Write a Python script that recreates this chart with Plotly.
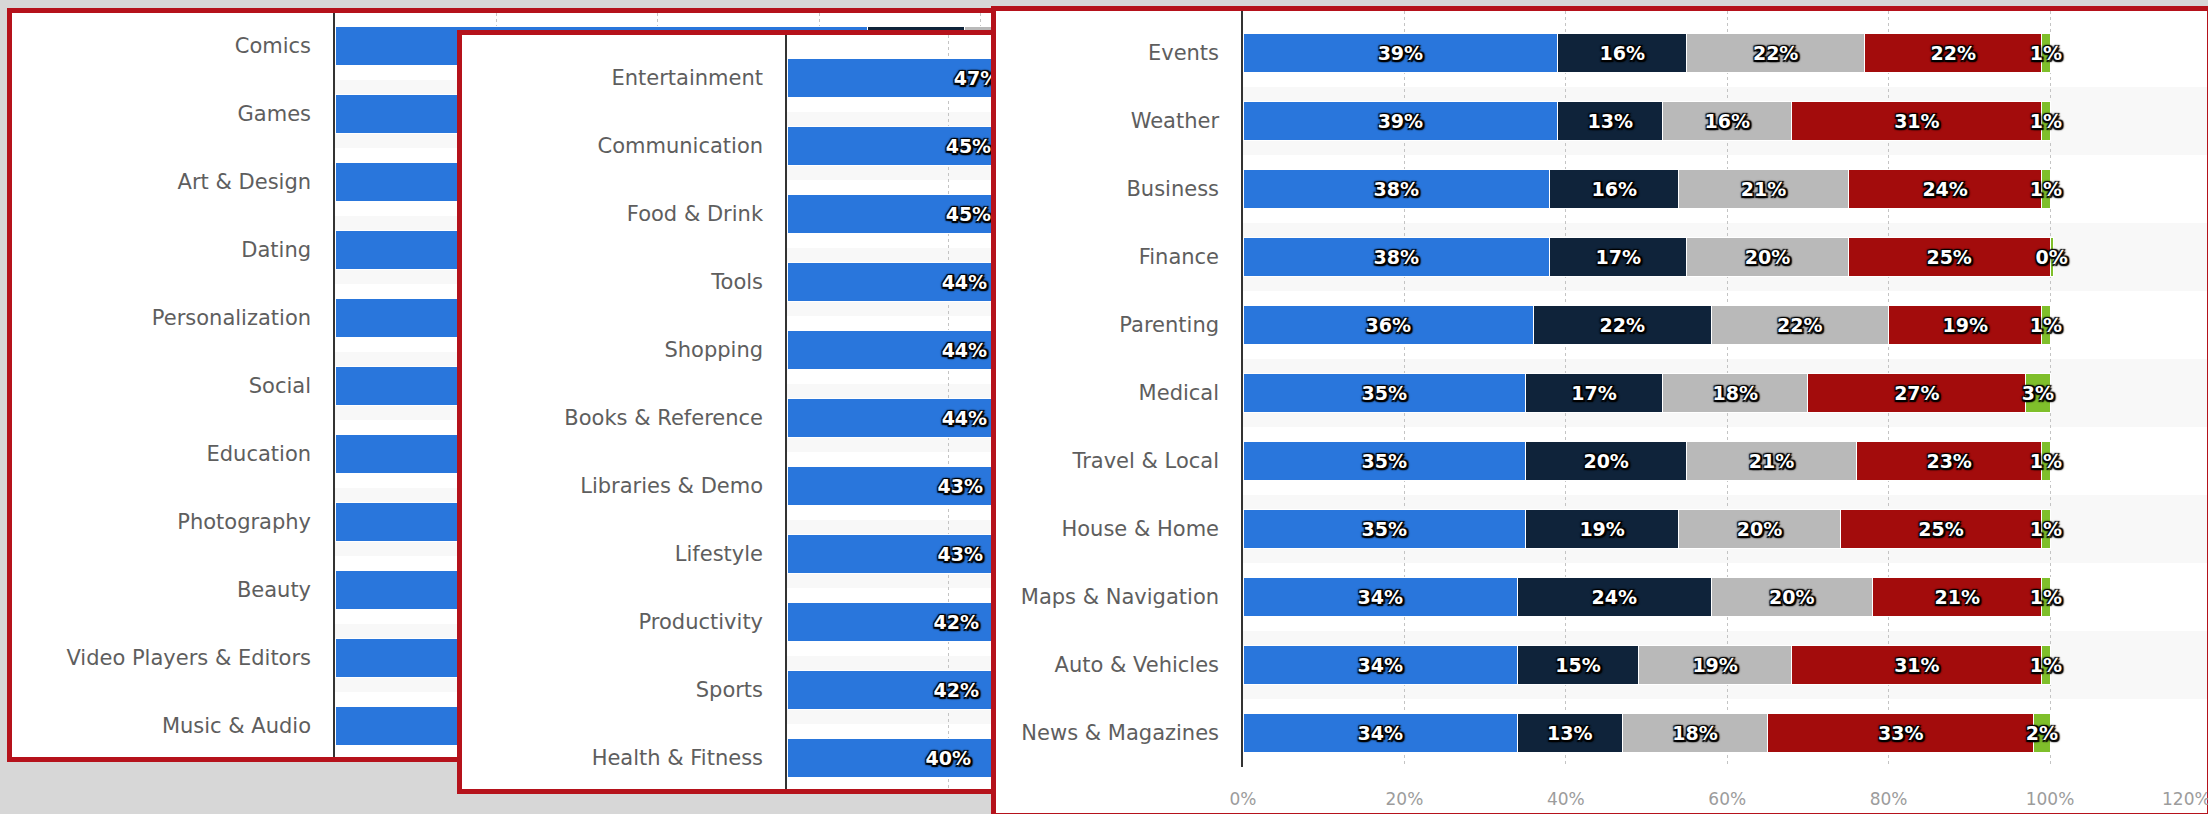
import plotly.graph_objects as go

W, H = 2208, 814

# ---------------- data ----------------
p1_categories = ["Comics", "Games", "Art & Design", "Dating", "Personalization", "Social",
                 "Education", "Photography", "Beauty", "Video Players & Editors", "Music & Audio"]
p1_blue = [66, 62, 59, 57, 55, 53, 52, 51, 50, 49, 48]
p1_navy = [12, None, None, None, None, None, None, None, None, None, None]
p1_gray = [10, None, None, None, None, None, None, None, None, None, None]

p2_categories = ["Entertainment", "Communication", "Food & Drink", "Tools", "Shopping",
                 "Books & Reference", "Libraries & Demo", "Lifestyle", "Productivity",
                 "Sports", "Health & Fitness"]
p2_blue = [47, 45, 45, 44, 44, 44, 43, 43, 42, 42, 40]

p3_categories = ["Events", "Weather", "Business", "Finance", "Parenting", "Medical",
                 "Travel & Local", "House & Home", "Maps & Navigation", "Auto & Vehicles",
                 "News & Magazines"]
p3_blue = [39, 39, 38, 38, 36, 35, 35, 35, 34, 34, 34]
p3_navy = [16, 13, 16, 17, 22, 17, 20, 19, 24, 15, 13]
p3_gray = [22, 16, 21, 20, 22, 18, 21, 20, 20, 19, 18]
p3_red = [22, 31, 24, 25, 19, 27, 23, 25, 21, 31, 33]
p3_green = [1, 1, 1, 0.4, 1, 3, 1, 1, 1, 1, 2]

x_ticks = [0, 20, 40, 60, 80, 100]
x_tick_labels = ["0%", "20%", "40%", "60%", "80%", "100%"]
x_last_label = "120%"

# ---------------- style ----------------
BLUE = "#2976dc"
NAVY = "#0f233a"
GRAY = "#b9b9b9"
RED = "#a30c0c"
GREEN = "#7fbf2b"
BORDER = "#b5121b"
FONT = "DejaVu Sans"
LABEL_SHADOW = ("2px 2px 1px #000, -1px -1px 1px #000, 2px -1px 1px #000, "
                "-1px 2px 1px #000, 0 0 3px #000, 1px 1px 3px #000")


def pct(vals):
    return [None if v is None else f"{v:.0f}%" for v in vals]


def px_dom_x(a, b):
    return [a / W, b / W]


def px_dom_y(top, bottom):
    return [1 - bottom / H, 1 - top / H]


fig = go.Figure()
layout = dict(
    width=W, height=H, autosize=False,
    margin=dict(l=0, r=0, t=0, b=0, pad=0, autoexpand=False),
    paper_bgcolor="#d7d7d7", plot_bgcolor="#ffffff",
    barmode="stack", bargap=0.44, showlegend=False,
    font=dict(family=FONT),
)
shapes = []


def add_frame(n, x0, x1, y0, y1):
    sx = "" if n == 1 else str(n)
    common = dict(range=[0, 1], showgrid=False, zeroline=False, showticklabels=False,
                  ticks="", showline=True, mirror=True, linecolor=BORDER,
                  linewidth=5, fixedrange=True, automargin=False)
    layout["xaxis" + sx] = dict(domain=px_dom_x(x0, x1), anchor="y" + sx, **common)
    layout["yaxis" + sx] = dict(domain=px_dom_y(y0, y1), anchor="x" + sx, **common)
    fig.add_trace(go.Scatter(x=[0.5], y=[0.5], mode="markers", marker=dict(opacity=0),
                             hoverinfo="skip", xaxis="x" + sx, yaxis="y" + sx))


def add_chart(n, x0, x1, y0, y1, xrange, yrange, cats, show_xlabels=False):
    sx = str(n)
    layout["xaxis" + sx] = dict(domain=px_dom_x(x0, x1), anchor="y" + sx, range=xrange,
                                showgrid=True, griddash="dot", gridcolor="#c4c4c4",
                                gridwidth=1, zeroline=False,
                                showline=False, ticks="", showticklabels=show_xlabels,
                                tickvals=x_ticks, ticktext=x_tick_labels,
                                tickfont=dict(family=FONT, size=17, color="#9c9c9c"),
                                ticklabelstandoff=20, fixedrange=True, automargin=False)
    layout["yaxis" + sx] = dict(domain=px_dom_y(y0, y1), anchor="x" + sx, range=yrange,
                                type="category", categoryorder="array", categoryarray=cats,
                                showgrid=False, zeroline=False, showline=True,
                                linecolor="#333333", linewidth=1.5, ticks="",
                                tickfont=dict(family=FONT, size=21, color="#5e5e5e"),
                                ticklabelstandoff=18, fixedrange=True, automargin=False)
    for i in range(1, len(cats), 2):
        shapes.append(dict(type="rect", xref="x" + sx, yref="y" + sx, x0=xrange[0], x1=xrange[1],
                           y0=i - 0.5, y1=i + 0.5, fillcolor="#f8f8f8", line=dict(width=0),
                           layer="below"))


def add_bar(n, cats, vals, color):
    sx = str(n)
    fig.add_trace(go.Bar(
        y=cats, x=vals, orientation="h", xaxis="x" + sx, yaxis="y" + sx,
        marker=dict(color=color, line=dict(color="#ffffff", width=1)),
        text=pct(vals), textposition="inside", insidetextanchor="middle",
        textangle=0, constraintext="none", cliponaxis=True,
        textfont=dict(family=FONT, size=19, color="#ffffff", weight="bold",
                      shadow=LABEL_SHADOW),
        hoverinfo="skip",
    ))


# Panel 1 (back)
add_frame(1, 12, 1000, 13, 757)
add_chart(2, 335, 995, 13, 757, [0, 81.8], [10.456, -0.485], p1_categories)
add_bar(2, p1_categories, p1_blue, BLUE)
add_bar(2, p1_categories, p1_navy, NAVY)
add_bar(2, p1_categories, p1_gray, GRAY)

# Panel 2 (middle)
add_frame(3, 462, 1000, 35, 789)
add_chart(4, 787, 995, 35, 789, [0, 25.8], [10.456, -0.632], p2_categories)
add_bar(4, p2_categories, p2_blue, BLUE)

# Panel 3 (front)
add_frame(5, 996, 2207, 11, 813)
X3_MAX = 119.45
add_chart(6, 1243, 2207, 11, 767, [0, X3_MAX], [10.5, -0.618], p3_categories, show_xlabels=True)
add_bar(6, p3_categories, p3_blue, BLUE)
add_bar(6, p3_categories, p3_navy, NAVY)
add_bar(6, p3_categories, p3_gray, GRAY)
add_bar(6, p3_categories, p3_red, RED)
add_bar(6, p3_categories, p3_green, GREEN)

layout["shapes"] = shapes
# last axis label, justified against the chart edge (as the original library does)
layout["annotations"] = [dict(
    text=x_last_label, xref="x6 domain", yref="y6 domain", x=1, y=0,
    xanchor="right", yanchor="top", xshift=6, yshift=-20, showarrow=False,
    font=dict(family=FONT, size=17, color="#9c9c9c"))]

fig.update_layout(**layout)
fig.write_html("out.html")
